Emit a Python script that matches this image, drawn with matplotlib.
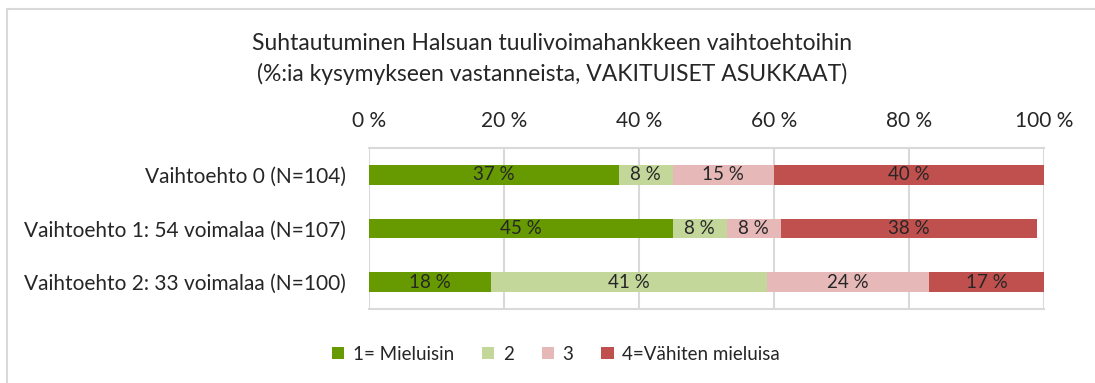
import numpy as np
import matplotlib.pyplot as plt
from matplotlib.patches import Rectangle

# --- Data ---
categories = [
    "Vaihtoehto 0 (N=104)",
    "Vaihtoehto 1: 54 voimalaa (N=107)",
    "Vaihtoehto 2: 33 voimalaa (N=100)",
]
series_names = ["1= Mieluisin", "2", "3", "4=Vähiten mieluisa"]
mieluisin = [37, 45, 18]
toinen = [8, 8, 41]
kolmas = [15, 8, 24]
vahiten = [40, 38, 17]
tick_values = [0, 20, 40, 60, 80, 100]

colors = ["#669a00", "#c4d79b", "#e6b9b8", "#c0504d"]
text_color = "#262626"
grid_color = "#d9d9d9"

plt.rcParams["font.family"] = ["Lato", "DejaVu Sans"]

fig = plt.figure(figsize=(10.95, 3.83), dpi=100)
ax = fig.add_axes([369 / 1095, 1 - 309 / 383, (1044 - 369) / 1095, (309 - 148) / 383])

series = [mieluisin, toinen, kolmas, vahiten]
y = np.arange(len(categories))
left = np.zeros(len(categories))
for name, vals, col in zip(series_names, series, colors):
    vals = np.array(vals, dtype=float)
    bars = ax.barh(y, vals, left=left, height=0.37, color=col, label=name, zorder=3)
    for rect, v in zip(bars, vals):
        ax.text(rect.get_x() + rect.get_width() / 2, rect.get_y() + rect.get_height() / 2,
                f"{v:.0f} %", ha="center", va="center", fontsize=13.5, color=text_color, zorder=4)
    left += vals

ax.set_xlim(0, 100)
ax.set_ylim(len(categories) - 0.5, -0.5)
ax.set_yticks(y)
ax.set_yticklabels(categories, fontsize=15, color=text_color)
ax.set_xticks(tick_values)
ax.set_xticklabels([f"{t} %" for t in tick_values], fontsize=15, color=text_color)
ax.xaxis.tick_top()
ax.tick_params(axis="both", length=0)
ax.tick_params(axis="x", pad=12)
ax.tick_params(axis="y", pad=16.5)
ax.grid(axis="x", color=grid_color, linewidth=1.5, zorder=0)
for side in ["left", "right"]:
    ax.spines[side].set_visible(False)
for side in ["top", "bottom"]:
    ax.spines[side].set_color(grid_color)
    ax.spines[side].set_linewidth(1.5)

fig.text(552 / 1095, 1 - 59 / 383,
         "Suhtautuminen Halsuan tuulivoimahankkeen vaihtoehtoihin\n(%:ia kysymykseen vastanneista, VAKITUISET ASUKKAAT)",
         ha="center", va="center", fontsize=16.5, color=text_color, linespacing=1.5)

fig.legend(loc="center", bbox_to_anchor=(556 / 1095, 1 - 354 / 383), ncol=4, frameon=False,
           fontsize=13.5, handlelength=0.65, handleheight=0.65, handletextpad=0.45, columnspacing=1.5,
           labelcolor=text_color)

# outer chart border
fig.patches.append(Rectangle((7 / 1095, -0.05), 1.1, 1 - 9 / 383 + 0.05, transform=fig.transFigure,
                             fill=False, edgecolor=grid_color, linewidth=1.5))

fig.savefig("out.png", dpi=100)
